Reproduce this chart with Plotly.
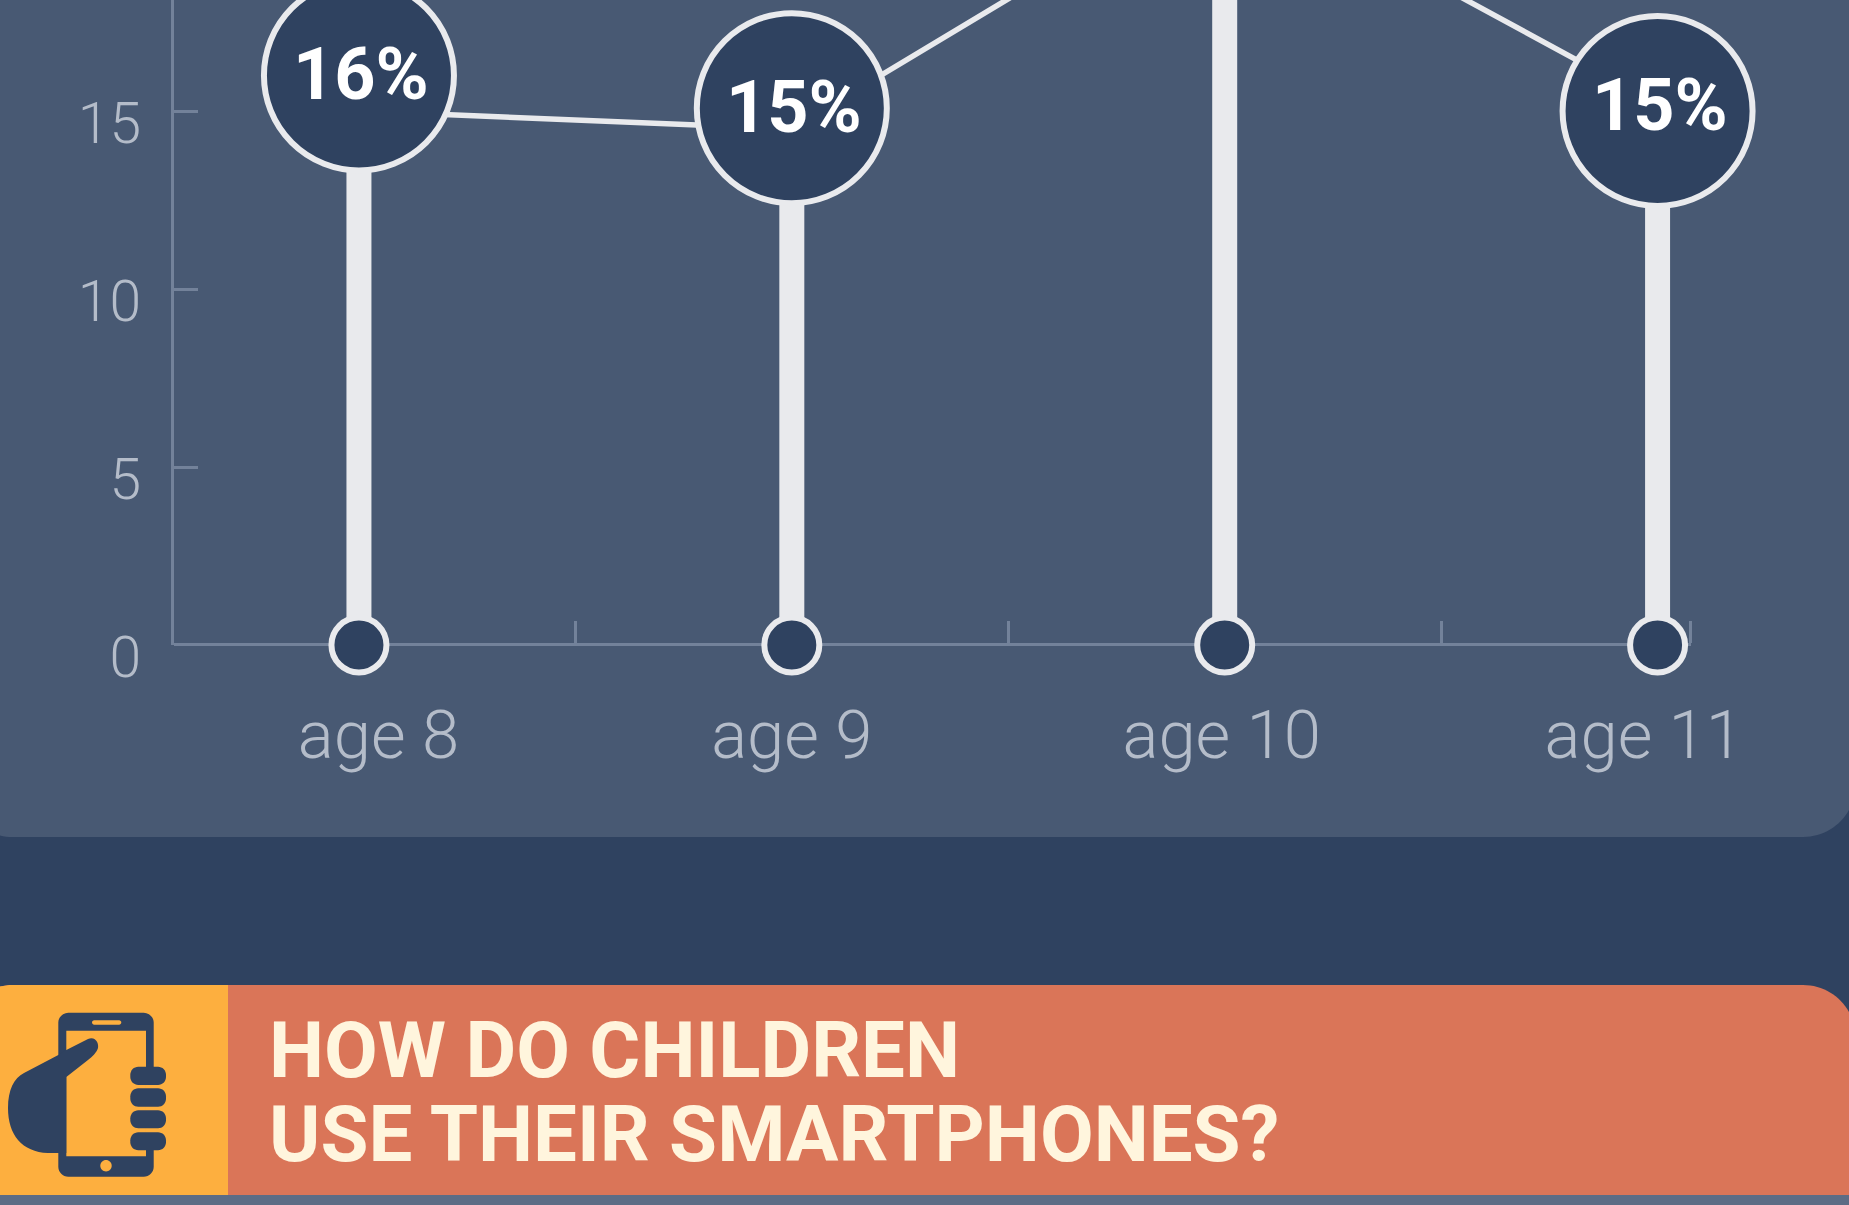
import plotly.graph_objects as go

W, H = 1849, 1205

# ---- data ----
categories = ["age 8", "age 9", "age 10", "age 11"]
circle_values = [16.0, 15.08, 22.0, 15.0]
circle_labels = ["16%", "15%", "", "15%"]
label_values = [16.0, 15.08, 22.0, 15.13]
line_values = [15.0, 14.5, 21.8, 15.2]
baseline_values = [0, 0, 0, 0]
y_ticks = [0, 5, 10, 15]
y_tick_labels = ["0", "5", "10", "15"]
band_edges = [0.5, 1.5, 2.5, 3.076]
label_positions = [0.045, 1.0, 1.993, 2.968]

positions = list(range(len(categories)))

NAVY = "#2f4260"
PANEL = "#485973"
STEM = "#e9eaed"
AXIS = "#73829a"
TICKTXT = "#b4bcc9"
ORANGE = "#fdaf3f"
SALMON = "#da7558"
CREAM = "#fff5dd"
STRIP = "#5c6c85"
K = 0.5523


def fx(x):
    return x / W


def fy(y):
    return 1 - y / H


def path(*cmds):
    out = []
    for c in cmds:
        letter, pts = c[0], c[1:]
        out.append(letter + " " + " ".join(f"{fx(pts[i]):.5f},{fy(pts[i+1]):.5f}" for i in range(0, len(pts), 2)))
    return " ".join(out) + " Z"


def rrect(x0, y0, x1, y1, r=0, tl=None, tr=None, br=None, bl=None):
    tl = r if tl is None else tl
    tr = r if tr is None else tr
    br = r if br is None else br
    bl = r if bl is None else bl
    k = 1 - K
    return path(
        ("M", x0 + tl, y0), ("L", x1 - tr, y0),
        ("C", x1 - tr * k, y0, x1, y0 + tr * k, x1, y0 + tr),
        ("L", x1, y1 - br),
        ("C", x1, y1 - br * k, x1 - br * k, y1, x1 - br, y1),
        ("L", x0 + bl, y1),
        ("C", x0 + bl * k, y1, x0, y1 - bl * k, x0, y1 - bl),
        ("L", x0, y0 + tl),
        ("C", x0, y0 + tl * k, x0 + tl * k, y0, x0 + tl, y0),
    )


def sh(d, color):
    return dict(type="path", xref="paper", yref="paper", path=d, fillcolor=color,
                line=dict(width=0), layer="below")


hand = path(
    ("M", 58.3, 1055), ("L", 66.3, 1050), ("L", 88, 1039),
    ("C", 96, 1036, 99, 1044, 98, 1048), ("C", 97, 1052, 92, 1057, 88, 1060),
    ("L", 66.3, 1077), ("L", 66.3, 1153), ("L", 48, 1153),
    ("C", 22, 1152, 8, 1135, 8, 1108), ("C", 8, 1090, 14, 1078, 24, 1073),
)

shapes = [
    sh(rrect(-40, -100, 1855.7, 837, 52.7), PANEL),
    sh(path(("M", 0, 1190), ("L", W, 1190), ("L", W, H), ("L", 0, H)), STRIP),
    sh(rrect(-40, 985, 1855.7, 1195, 0, tl=52.7, tr=52.7), SALMON),
    sh(rrect(-40, 985, 228, 1195, 0, tl=52.7), ORANGE),
    sh(rrect(58.3, 1012.7, 153.7, 1176.7, 10), NAVY),
    sh(rrect(66.3, 1030.7, 146, 1156.3, 0), ORANGE),
    sh(rrect(146, 1072, 160, 1145, 0), ORANGE),
    sh(rrect(92, 1020.3, 121.3, 1024.7, 2.2), ORANGE),
    sh(rrect(100.3, 1160, 111.7, 1171.4, 5.7), ORANGE),
    sh(rrect(130.3, 1066.7, 166, 1085, 8), NAVY),
    sh(rrect(130.3, 1088.3, 166, 1106.7, 8), NAVY),
    sh(rrect(130.3, 1110.3, 166, 1128.3, 8), NAVY),
    sh(rrect(130.3, 1132.3, 166, 1150.3, 8), NAVY),
    sh(hand, NAVY),
]

circle_annotations = [
    dict(text=label, x=xpos, y=val, xref="x", yref="y", xshift=2, yshift=1, showarrow=False,
         font=dict(family="Roboto", size=72, color="#ffffff", weight=700))
    for xpos, val, label in zip(positions, label_values, circle_labels) if label
]

fig = go.Figure()
fig.add_trace(go.Bar(x=positions, y=circle_values, width=25 / 433, marker=dict(color=STEM, line=dict(width=0)),
                     hoverinfo="skip", showlegend=False))
fig.add_trace(go.Scatter(x=positions, y=line_values, mode="lines", line=dict(color=STEM, width=5.5),
                         hoverinfo="skip", showlegend=False, cliponaxis=False))
fig.add_trace(go.Scatter(x=positions, y=baseline_values, mode="markers",
                         marker=dict(size=55, color=NAVY, line=dict(color=STEM, width=6)),
                         hoverinfo="skip", showlegend=False, cliponaxis=False))
fig.add_trace(go.Scatter(x=positions, y=circle_values, mode="markers",
                         marker=dict(size=190, color=NAVY, line=dict(color=STEM, width=6)),
                         hoverinfo="skip", showlegend=False, cliponaxis=False))

AX_L = 173.5
fig.update_layout(
    width=W, height=H, margin=dict(l=0, r=0, t=0, b=0, autoexpand=False),
    paper_bgcolor=NAVY, plot_bgcolor="rgba(0,0,0,0)",
    shapes=shapes, showlegend=False,
    annotations=circle_annotations + [
        dict(text="HOW DO CHILDREN", xref="paper", yref="paper", x=fx(267), y=fy(1050),
             xanchor="left", yanchor="middle", showarrow=False,
             font=dict(family="Roboto", size=78, color=CREAM, weight=700)),
        dict(text="USE THEIR SMARTPHONES?", xref="paper", yref="paper", x=fx(267), y=fy(1134),
             xanchor="left", yanchor="middle", showarrow=False,
             font=dict(family="Roboto", size=78, color=CREAM, weight=700)),
    ],
    xaxis=dict(
        domain=[fx(AX_L), fx(1691)], range=[(AX_L - 359) / 433, (1691 - 359) / 433 + 0.001],
        anchor="free", position=fy(643.5),
        tickmode="array", tickvals=label_positions, ticktext=categories, ticks="",
        tickfont=dict(family="Roboto", size=67, color=TICKTXT, weight=300),
        ticklabelstandoff=32, showgrid=False, zeroline=False,
        showline=True, linecolor=AXIS, linewidth=3, layer="below traces",
        minor=dict(tickmode="array", tickvals=band_edges, ticks="inside", ticklen=22,
                   tickwidth=2.5, tickcolor=AXIS, showgrid=False),
    ),
    yaxis=dict(
        domain=[fy(645), 1], range=[0, 645 / 35.6],
        tickmode="array", tickvals=y_ticks, ticktext=y_tick_labels, ticks="inside", ticklen=24,
        tickwidth=3, tickcolor=AXIS,
        tickfont=dict(family="Roboto", size=57, color=TICKTXT, weight=300),
        ticklabelshift=12, ticklabelstandoff=18, showgrid=False, zeroline=False,
        showline=True, linecolor=AXIS, linewidth=3, layer="below traces",
    ),
)

fig.write_html("out.html", config={"displayModeBar": False},
               post_script="document.body.style.margin='0';document.body.style.background='%s';" % NAVY)
